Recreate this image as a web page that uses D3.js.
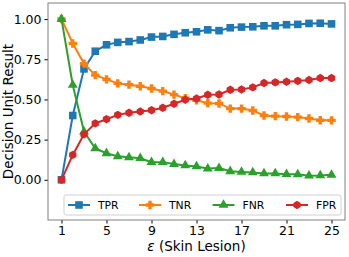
<!DOCTYPE html>
<html>
<head>
<meta charset="utf-8">
<script src="https://cdn.jsdelivr.net/npm/d3@7"></script>
<style>
  body { margin: 0; background: #fff; }
  svg { font-family: "DejaVu Sans", sans-serif; }
</style>
</head>
<body>
<div class="svg-container"></div>
<script>
// epsilon values on the x axis
var epsilons = d3.range(1, 26);
var xTicks = [1, 5, 9, 13, 17, 21, 25];
var yTicks = [0, 0.25, 0.5, 0.75, 1.0];

// series
var tpr = [0.00, 0.40, 0.69, 0.80, 0.84, 0.855, 0.86, 0.87, 0.888, 0.892, 0.905, 0.915, 0.921, 0.933, 0.928, 0.946, 0.95, 0.952, 0.958, 0.958, 0.965, 0.967, 0.973, 0.974, 0.97];
var tnr = [1.00, 0.848, 0.723, 0.651, 0.625, 0.60, 0.592, 0.582, 0.568, 0.552, 0.53, 0.507, 0.495, 0.477, 0.475, 0.443, 0.443, 0.431, 0.40, 0.396, 0.394, 0.39, 0.381, 0.371, 0.37];
var fnr = [1.00, 0.59, 0.30, 0.195, 0.165, 0.146, 0.14, 0.134, 0.11, 0.11, 0.098, 0.089, 0.083, 0.07, 0.073, 0.053, 0.049, 0.046, 0.04, 0.04, 0.035, 0.034, 0.026, 0.027, 0.031];
var fpr = [0.00, 0.155, 0.283, 0.351, 0.377, 0.404, 0.417, 0.425, 0.433, 0.448, 0.473, 0.498, 0.506, 0.529, 0.531, 0.56, 0.562, 0.575, 0.602, 0.606, 0.61, 0.615, 0.621, 0.633, 0.633];

var seriesNames = ["TPR", "TNR", "FNR", "FPR"];
var seriesValues = [tpr, tnr, fnr, fpr];
var colors = ["#1f77b4", "#ff7f0e", "#2ca02c", "#d62728"];

var W = 349, H = 257;
var margin = {top: 3, right: 4, bottom: 37, left: 48};
var width = W - margin.left - margin.right,
    height = H - margin.top - margin.bottom;

var svg = d3.select(".svg-container").append("svg")
  .attr("width", W)
  .attr("height", H);

var g = svg.append("g")
  .attr("transform", "translate(" + margin.left + "," + margin.top + ")");

var x = d3.scaleLinear().domain([-0.2, 26.2]).range([0, width]);
var y = d3.scaleLinear().domain([-0.25, 1.1]).range([height, 0]);

// marker shapes
function markerPath(i) {
  if (i == 0) return "M-3.8,-3.8H3.8V3.8H-3.8Z";
  if (i == 1) return "M-1.7,-4.2H1.7V-1.7H4.2V1.7H1.7V4.2H-1.7V1.7H-4.2V-1.7H-1.7Z";
  if (i == 2) return d3.symbol(d3.symbolTriangle, 42)();
  var pts = d3.range(6).map(function(k) {
    var a = Math.PI / 3 * k - Math.PI / 2;
    return [4.2 * Math.cos(a), 4.2 * Math.sin(a)];
  });
  return "M" + pts.join("L") + "Z";
}

// lines and markers
var line = d3.line()
  .x(function(d, i) { return x(epsilons[i]); })
  .y(function(d) { return y(d); });

seriesValues.forEach(function(vals, s) {
  g.append("path")
    .datum(vals)
    .attr("d", line)
    .attr("fill", "none")
    .attr("stroke", colors[s])
    .attr("stroke-width", 2);

  g.selectAll(".m" + s)
    .data(vals)
    .enter().append("path")
    .attr("class", "m" + s)
    .attr("transform", function(d, i) { return "translate(" + x(epsilons[i]) + "," + y(d) + ")"; })
    .attr("d", markerPath(s))
    .attr("fill", colors[s]);
});

// axes
var xAxis = g.append("g")
  .attr("transform", "translate(0," + height + ")")
  .call(d3.axisBottom(x).tickValues(xTicks).tickSize(3.5).tickPadding(3));
var yAxis = g.append("g")
  .call(d3.axisLeft(y).tickValues(yTicks).tickFormat(d3.format(".2f")).tickSize(3.5).tickPadding(3));

[xAxis, yAxis].forEach(function(ax) {
  ax.select(".domain").remove();
  ax.selectAll("text").attr("font-size", 12.5).attr("fill", "#000")
    .attr("font-family", "DejaVu Sans");
  ax.selectAll("line").attr("stroke", "#000");
});

// frame
g.append("rect")
  .attr("width", width)
  .attr("height", height)
  .attr("fill", "none")
  .attr("stroke", "#808080")
  .attr("stroke-width", 1);

// axis labels
var xl = svg.append("text")
  .attr("x", margin.left + width / 2)
  .attr("y", H - 6)
  .attr("text-anchor", "middle")
  .attr("font-size", 13.5);
xl.append("tspan").attr("font-style", "italic").text("ε");
xl.append("tspan").text(" (Skin Lesion)");

svg.append("text")
  .attr("transform", "translate(13," + (margin.top + height / 2) + ") rotate(-90)")
  .attr("text-anchor", "middle")
  .attr("font-size", 13.5)
  .text("Decision Unit Result");

// legend
var legend = g.append("g")
  .attr("transform", "translate(16," + (height - 25) + ")");

legend.append("rect")
  .attr("width", 277)
  .attr("height", 20)
  .attr("rx", 2)
  .attr("fill", "#fff")
  .attr("fill-opacity", 0.8)
  .attr("stroke", "#d0d0d0");

var itemX = [4, 75, 148.5, 222];
seriesNames.forEach(function(name, s) {
  var item = legend.append("g").attr("transform", "translate(" + itemX[s] + ",10)");
  item.append("line")
    .attr("x1", 0).attr("x2", 22)
    .attr("stroke", colors[s]).attr("stroke-width", 2);
  item.append("path")
    .attr("transform", "translate(11,0)")
    .attr("d", markerPath(s))
    .attr("fill", colors[s]);
  item.append("text")
    .attr("x", 30)
    .attr("dy", "0.35em")
    .attr("font-size", 10.8)
    .text(name);
});
</script>
</body>
</html>
